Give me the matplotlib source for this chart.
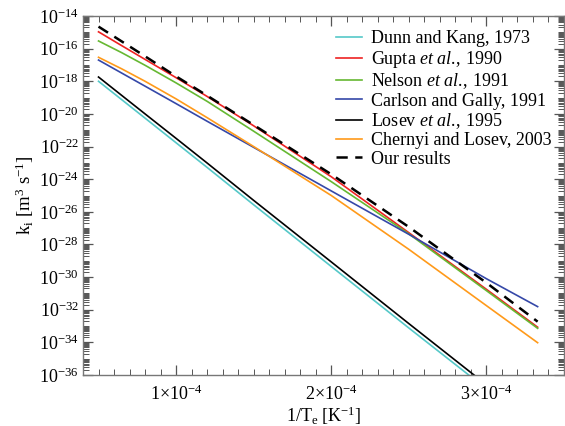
import numpy as np
import matplotlib
matplotlib.use("Agg")
import matplotlib.pyplot as plt
from matplotlib.ticker import FixedLocator, LogLocator, NullFormatter, FixedFormatter, MultipleLocator

plt.rcParams['font.family'] = ['Liberation Serif', 'DejaVu Serif']
plt.rcParams['mathtext.fontset'] = 'custom'
plt.rcParams['mathtext.rm'] = 'Liberation Serif'
plt.rcParams['mathtext.it'] = 'Liberation Serif:italic'
plt.rcParams['mathtext.bf'] = 'Liberation Serif:bold'

# 1/T_e values (K^-1)
inv_T = np.array([0.5, 0.65, 0.8, 1.0, 1.2, 1.5, 2.0, 2.5, 3.0, 3.33]) * 1e-4

# log10 of rate coefficient k_i [m^3 s^-1]
log_dunn_kang = [-18.00, -19.13, -20.26, -21.77, -23.28, -25.57, -29.35, -33.12, -36.85, -39.35]
log_gupta     = [-14.97, -15.82, -16.66, -17.78, -18.93, -20.73, -23.85, -27.28, -30.75, -33.07]
log_nelson    = [-15.53, -16.25, -17.02, -18.10, -19.23, -21.06, -24.15, -27.35, -30.83, -33.14]
log_carlson   = [-16.70, -17.50, -18.30, -19.37, -20.45, -22.05, -24.72, -27.38, -30.10, -31.81]
log_losev     = [-17.74, -18.87, -20.00, -21.50, -23.01, -25.30, -29.07, -32.85, -36.60, -39.10]
log_chernyi   = [-16.53, -17.24, -18.00, -19.08, -20.23, -22.00, -25.00, -28.30, -31.75, -34.02]
log_ours      = [-14.65, -15.56, -16.47, -17.70, -18.88, -20.68, -23.70, -26.93, -30.35, -32.73]

labels = ["Dunn and Kang, 1973",
          r"Gupta $\mathit{et\ al.}\!\mathrm{,\,1990}$",
          r"Nelson $\mathit{et\ al.}\!\mathrm{,\,1991}$",
          "Carlson and Gally, 1991",
          r"Losev $\mathit{et\ al.}\!\mathrm{,\,1995}$",
          "Chernyi and Losev, 2003",
          "Our results"]

fig = plt.figure(figsize=(5.65, 4.26), dpi=100)
ax = fig.add_axes([83/565, 1-375/426, (564-83)/565, (375-16)/426])

series = [log_dunn_kang, log_gupta, log_nelson, log_carlson, log_losev, log_chernyi]
colors = ['#55c8c8', '#ee2222', '#66b832', '#3548a8', '#000000', '#ff9a1a']
for vals, c, lab in zip(series, colors, labels[:6]):
    ax.plot(inv_T, 10.0**np.array(vals), color=c, lw=1.2, label=lab)
ax.plot(inv_T, 10.0**np.array(log_ours), color='black', lw=1.8,
        dashes=(4.5, 3.0), label=labels[6])

ax.set_yscale('log')
ax.set_xlim(0.4e-4, 3.5e-4)
ax.set_ylim(1e-36, 1e-14)

ymaj = [10.0**e for e in range(-36, -13, 2)]
ax.yaxis.set_major_locator(FixedLocator(ymaj))
ax.yaxis.set_major_formatter(FixedFormatter([r'$10^{%d}$' % e for e in range(-36, -13, 2)]))
ax.yaxis.set_minor_locator(LogLocator(base=10, subs=np.arange(1, 10), numticks=200))
ax.yaxis.set_minor_formatter(NullFormatter())

ax.xaxis.set_major_locator(FixedLocator([1e-4, 2e-4, 3e-4]))
ax.xaxis.set_major_formatter(FixedFormatter([r'$1{\times}10^{-4}$', r'$2{\times}10^{-4}$', r'$3{\times}10^{-4}$']))
ax.xaxis.set_minor_locator(MultipleLocator(1e-5))

ax.tick_params(which='both', direction='in', top=True, right=True, labelsize=13, color='#555555')
ax.tick_params(which='major', length=7, width=0.9)
ax.tick_params(which='minor', length=4, width=0.7)
ax.tick_params(axis='x', pad=7)
ax.tick_params(axis='y', pad=3)
for s in ax.spines.values():
    s.set_color('#777777')
    s.set_linewidth(1.0)

ax.set_xlabel(r'1/T$_\mathrm{e}$ [K$^{-1}$]', fontsize=13, labelpad=0)
ax.set_ylabel(r'k$_\mathrm{i}$ [m$^3$ s$^{-1}$]', fontsize=13.5, labelpad=2)

leg = ax.legend(loc='upper right', frameon=False, fontsize=13, handlelength=1.45,
                handletextpad=0.5, labelspacing=0.08, borderaxespad=0.3,
                bbox_to_anchor=(1.0, 0.995))

fig.savefig('out.png', dpi=100)
